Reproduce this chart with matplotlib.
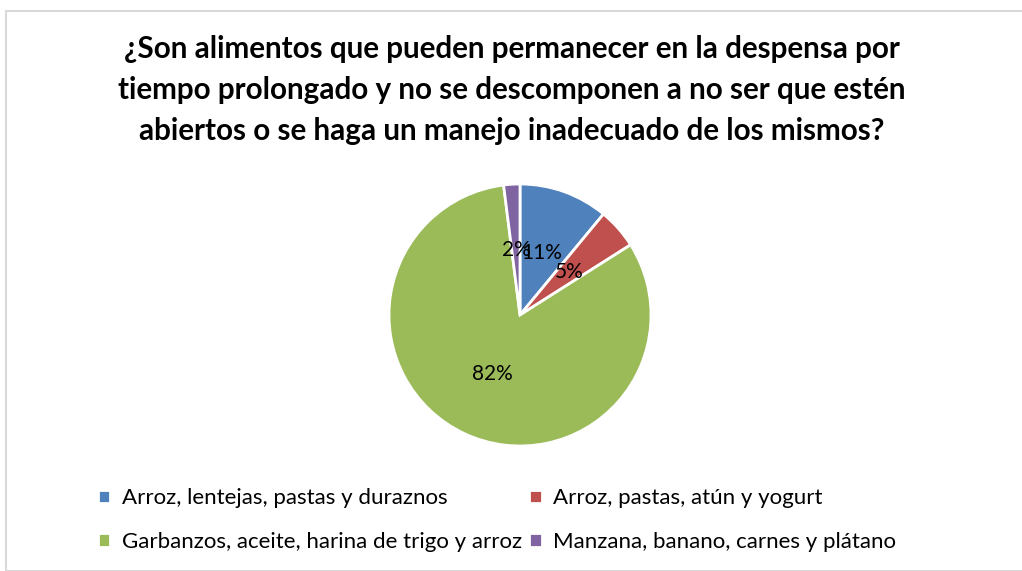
import matplotlib
matplotlib.use("Agg")
import matplotlib.pyplot as plt
from matplotlib.patches import Rectangle

title = ("¿Son alimentos que pueden permanecer en la despensa por\n"
         "tiempo prolongado y no se descomponen a no ser que estén\n"
         "abiertos o se haga un manejo inadecuado de los mismos?")
categories = ["Arroz, lentejas, pastas y duraznos",
              "Arroz, pastas, atún y yogurt",
              "Garbanzos, aceite, harina de trigo y arroz",
              "Manzana, banano, carnes y plátano"]
values = [11, 5, 82, 2]
colors = ["#4F81BD", "#C0504D", "#9BBB59", "#8064A2"]

plt.rcParams['font.family'] = ['Lato', 'DejaVu Sans']

fig = plt.figure(figsize=(10.22, 5.71), dpi=100)
fig.patch.set_facecolor("white")

# chart border
fig.add_artist(Rectangle((6/1022, 0), 1.1, 1 - 11/571, transform=fig.transFigure,
                         fill=False, edgecolor="#D9D9D9", linewidth=1.5))

W, H = 1022, 571
cx, cy, r = 520, 315, 131
ax = fig.add_axes([(cx - r) / W, 1 - (cy + r) / H, 2 * r / W, 2 * r / H])
wedges, texts, autotexts = ax.pie(values, colors=colors, startangle=90, counterclock=False,
                                  autopct=lambda p: f"{p:.0f}%", pctdistance=0.5,
                                  wedgeprops=dict(edgecolor="white", linewidth=2),
                                  textprops=dict(fontsize=15, color="black"))
ax.set_aspect("equal")
ax.set_xlim(-1, 1)
ax.set_ylim(-1, 1)

fig.text(512/W, 1 - 90/H, title, ha="center", va="center", fontsize=21.3,
         fontweight="bold", linespacing=1.55)

# row-major order like the reference: matplotlib fills columns first
order = [0, 2, 1, 3]
fig.legend([wedges[i] for i in order], [categories[i] for i in order], loc="center",
           bbox_to_anchor=(497/W, 1 - 520/H),
           ncol=2, frameon=False, fontsize=16, handlelength=0.55, handleheight=0.55,
           handletextpad=0.5, columnspacing=0.35, labelspacing=1.05)

fig.savefig("out.png", dpi=100, facecolor="white")
